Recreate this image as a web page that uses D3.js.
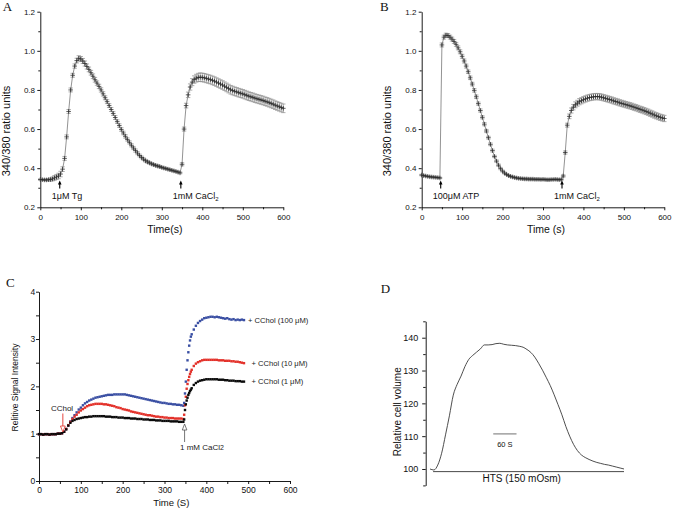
<!DOCTYPE html>
<html>
<head>
<meta charset="utf-8">
<script src="https://cdn.jsdelivr.net/npm/d3@7"></script>
<style>
  body { margin: 0; background: #fff; }
  svg { display: block; }
  text { font-family: "Liberation Sans", Arial, sans-serif; fill: #111; }
</style>
</head>
<body>
<svg id="fig" width="673" height="510"></svg>
<script>
// ---- data ----
// A and B: 340/380 ratio, one reading every 5 s (0..600 s)
const stepAB = 5;
const ratioA = [
  0.342,0.341,0.340,0.340,0.341,0.342,0.345,0.350,0.355,0.360,
  0.370,0.395,0.450,0.560,0.690,0.800,0.875,0.922,0.950,0.962,
  0.958,0.948,0.935,0.920,0.905,0.888,0.870,0.852,0.835,0.818,
  0.800,0.780,0.760,0.740,0.720,0.700,0.680,0.659,0.638,0.618,
  0.598,0.580,0.563,0.547,0.532,0.517,0.503,0.490,0.477,0.465,
  0.455,0.446,0.438,0.432,0.427,0.422,0.418,0.414,0.411,0.408,
  0.404,0.401,0.398,0.395,0.392,0.389,0.386,0.383,0.380,0.376,
  0.420,0.600,0.720,0.775,0.815,0.840,0.853,0.860,0.864,0.865,
  0.864,0.862,0.859,0.856,0.853,0.849,0.845,0.840,0.835,0.830,
  0.825,0.819,0.813,0.807,0.801,0.797,0.793,0.790,0.786,0.783,
  0.780,0.776,0.772,0.768,0.765,0.762,0.758,0.755,0.752,0.749,
  0.746,0.742,0.739,0.735,0.731,0.727,0.722,0.718,0.714,0.710,
  0.706
];
const errA = [
  .004,.004,.004,.005,.006,.008,.010,.012,.013,.014,
  .014,.012,.010,.010,.010,.010,.010,.011,.012,.013,
  .013,.013,.013,.013,.012,.012,.012,.012,.011,.011,
  .011,.011,.010,.010,.010,.010,.010,.010,.009,.009,
  .009,.009,.009,.008,.008,.008,.008,.008,.008,.007,
  .007,.007,.007,.007,.006,.006,.006,.006,.006,.006,
  .005,.005,.005,.005,.005,.005,.005,.005,.005,.005,
  .008,.010,.012,.014,.016,.018,.019,.020,.021,.022,
  .022,.022,.022,.022,.022,.022,.022,.022,.022,.022,
  .022,.022,.022,.022,.022,.022,.022,.022,.022,.022,
  .022,.022,.022,.022,.022,.022,.022,.022,.022,.022,
  .022,.022,.022,.022,.022,.022,.022,.022,.022,.022,
  .022
];
const ratioB = [
  0.365,0.362,0.360,0.358,0.356,0.355,0.354,0.353,0.352,0.350,
  1.030,1.070,1.080,1.078,1.070,1.060,1.048,1.033,1.015,0.995,
  0.972,0.948,0.922,0.893,0.862,0.830,0.798,0.765,0.730,0.695,
  0.660,0.625,0.590,0.556,0.522,0.490,0.460,0.436,0.415,0.398,
  0.385,0.375,0.368,0.362,0.358,0.355,0.352,0.350,0.348,0.347,
  0.346,0.345,0.345,0.344,0.344,0.344,0.343,0.343,0.343,0.342,
  0.343,0.342,0.341,0.341,0.342,0.342,0.343,0.342,0.341,0.342,
  0.360,0.480,0.620,0.665,0.695,0.712,0.724,0.732,0.740,0.745,
  0.750,0.754,0.758,0.761,0.763,0.765,0.766,0.766,0.765,0.763,
  0.760,0.757,0.754,0.751,0.748,0.744,0.741,0.738,0.734,0.731,
  0.728,0.725,0.722,0.719,0.716,0.712,0.709,0.705,0.701,0.698,
  0.694,0.690,0.686,0.681,0.677,0.672,0.668,0.664,0.660,0.657,
  0.654
];
const errB = [
  .004,.004,.004,.004,.004,.004,.004,.004,.004,.004,
  .010,.010,.010,.010,.010,.010,.010,.010,.010,.010,
  .010,.010,.010,.009,.009,.009,.009,.009,.008,.008,
  .008,.008,.008,.007,.007,.007,.006,.006,.006,.006,
  .005,.005,.005,.005,.005,.005,.005,.005,.005,.005,
  .005,.005,.005,.005,.005,.005,.005,.005,.005,.005,
  .005,.005,.005,.005,.005,.005,.005,.005,.005,.005,
  .006,.008,.010,.012,.013,.014,.015,.015,.016,.016,
  .016,.016,.016,.016,.016,.016,.016,.016,.016,.016,
  .016,.016,.016,.016,.016,.016,.016,.016,.016,.016,
  .016,.016,.016,.016,.016,.016,.016,.016,.016,.016,
  .016,.016,.016,.016,.016,.016,.016,.016,.016,.016,
  .016
];
const stimA = [{ t: 48, label: "1\u03bcM Tg" }, { t: 347, label: "1mM CaCl", sub: "2" }];
const stimB = [{ t: 47, label: "100\u03bcM ATP" }, { t: 347, label: "1mM CaCl", sub: "2" }];

// C: relative signal intensity, 5 s steps with a finer run over the CaCl2 jump
const timeC = d3.range(0, 350, 5).concat([347, 349, 351, 353, 355, 357, 359, 361, 363], d3.range(365, 495, 5));
const cchol1 = [
  0.99,0.99,0.98,0.99,0.99,0.98,0.99,0.99,0.99,1.00,
  1.00,1.01,1.04,1.09,1.17,1.23,1.27,1.29,1.31,1.32,
  1.33,1.34,1.35,1.35,1.36,1.36,1.37,1.37,1.37,1.37,
  1.37,1.37,1.36,1.36,1.36,1.35,1.35,1.35,1.34,1.34,
  1.34,1.33,1.33,1.33,1.32,1.32,1.32,1.31,1.31,1.31,
  1.30,1.30,1.30,1.29,1.29,1.29,1.28,1.28,1.28,1.27,
  1.27,1.27,1.27,1.26,1.26,1.26,1.26,1.25,1.25,1.25,
  1.30,1.50,1.62,1.70,1.76,1.82,1.86,1.90,1.93,
  1.96,2.03,2.07,2.10,2.12,2.13,2.14,2.15,2.15,2.15,2.15,2.15,2.15,
  2.14,2.14,2.14,2.13,2.13,2.12,2.12,2.12,2.11,2.11,2.11,2.10,2.10
];
const cchol10 = [
  0.99,0.99,0.98,0.99,0.99,0.98,0.99,0.99,0.99,1.00,
  1.00,1.01,1.04,1.10,1.18,1.25,1.31,1.36,1.40,1.45,
  1.49,1.52,1.55,1.58,1.60,1.61,1.62,1.63,1.63,1.63,
  1.63,1.62,1.62,1.61,1.60,1.59,1.58,1.56,1.55,1.54,
  1.52,1.51,1.50,1.49,1.47,1.46,1.45,1.44,1.43,1.42,
  1.41,1.40,1.39,1.39,1.38,1.37,1.36,1.36,1.35,1.35,
  1.34,1.34,1.33,1.33,1.33,1.32,1.32,1.32,1.32,1.31,
  1.40,1.60,1.78,1.95,2.05,2.13,2.20,2.26,2.31,
  2.35,2.43,2.48,2.51,2.53,2.55,2.56,2.56,2.56,2.56,2.56,2.56,2.56,
  2.55,2.55,2.55,2.54,2.54,2.54,2.53,2.53,2.52,2.52,2.51,2.50,2.49
];
const cchol100 = [
  0.99,0.99,0.98,0.99,0.99,0.98,0.99,0.99,0.99,1.00,
  1.00,1.01,1.04,1.10,1.18,1.26,1.33,1.39,1.45,1.51,
  1.55,1.60,1.64,1.67,1.70,1.72,1.74,1.76,1.77,1.78,
  1.79,1.80,1.81,1.82,1.82,1.82,1.83,1.83,1.83,1.83,
  1.83,1.83,1.82,1.81,1.80,1.79,1.78,1.77,1.76,1.75,
  1.74,1.73,1.72,1.71,1.70,1.69,1.68,1.67,1.66,1.65,
  1.65,1.64,1.63,1.63,1.62,1.62,1.61,1.61,1.60,1.59,
  1.65,1.85,2.10,2.35,2.55,2.72,2.86,2.97,3.05,
  3.10,3.20,3.28,3.34,3.38,3.41,3.44,3.45,3.46,3.47,3.47,3.46,3.47,
  3.46,3.45,3.44,3.43,3.44,3.42,3.41,3.42,3.40,3.41,3.40,3.41,3.40
];
const seriesC = [
  { name: "+ CChol (100 \u03bcM)", values: cchol100, color: "#3a4fa3", dx: 4 },
  { name: "+ CChol (10 \u03bcM)", values: cchol10, color: "#e3312a", dx: 7.5 },
  { name: "+ CChol (1 \u03bcM)", values: cchol1, color: "#0b0b0b", dx: 7.5 }
];

// D: relative cell volume, every 10 s
const timeD = d3.range(0, 510, 10);
const volumeD = [
  100.0, 99.7,101.2,104.8,110.4,116.2,122.5,125.8,128.3,131.2,
  133.4,134.6,135.6,136.6,137.8,137.8,137.9,138.2,138.3,138.0,
  137.8,137.7,137.6,137.4,137.1,136.4,135.5,134.1,132.2,130.1,
  127.8,125.4,122.6,119.6,116.5,113.0,110.0,107.5,105.6,104.3,
  103.5,102.9,102.4,102.0,101.7,101.4,101.2,100.9,100.6,100.3,
  100.0
];

const svg = d3.select("#fig");

// ---- helpers ----
function axis(g, orient, scale, major, minor, fmt, o) {
  const make = orient === "bottom" ? d3.axisBottom : d3.axisLeft;
  const gm = g.append("g").call(make(scale).tickValues(major).tickFormat(fmt)
    .tickSize(o.len).tickPadding(o.pad).tickSizeOuter(0));
  gm.attr("font-family", null).attr("font-size", null);
  gm.selectAll("text").style("font-size", o.fs + "px");
  gm.selectAll("line,path").attr("stroke", "#000").attr("stroke-width", 0.9);
  if (minor) {
    const gn = g.append("g").call(make(scale).tickValues(minor).tickFormat("")
      .tickSize(o.minLen).tickSizeOuter(0));
    gn.select(".domain").remove();
    gn.selectAll("line").attr("stroke", "#000").attr("stroke-width", 0.9);
  }
}

function panelLetter(x, y, s) {
  svg.append("text").attr("x", x).attr("y", y).text(s)
    .style("font-family", "'Liberation Serif', 'Times New Roman', serif").style("font-size", "13px");
}

function ratioPanel(x0, x1, vals, errs, stims, xTitle, letterX) {
  const x = d3.scaleLinear().domain([0, 600]).range([x0, x1]);
  const y = d3.scaleLinear().domain([0.2, 1.2]).range([207.3, 11.7]);
  const pts = vals.map((v, i) => ({ t: i * stepAB, v, e: errs[i] }));
  const g = svg.append("g");

  axis(g.append("g").attr("transform", `translate(0,${y.range()[0]})`), "bottom", x,
    d3.range(0, 601, 100), d3.range(50, 600, 100), d3.format("d"), { len: 3, pad: 4.5, minLen: 2, fs: 8 });
  axis(g.append("g").attr("transform", `translate(${x0},0)`), "left", y,
    [0.2, 0.4, 0.6, 0.8, 1.0, 1.2], [0.3, 0.5, 0.7, 0.9, 1.1], d3.format(".1f"), { len: 3, pad: 2.3, minLen: 2, fs: 8 });

  // connecting line
  g.append("path").datum(pts)
    .attr("d", d3.line().x(d => x(d.t)).y(d => y(d.v)))
    .attr("fill", "none").attr("stroke", "#777").attr("stroke-width", 0.8);
  // error bars
  g.append("g").selectAll("path").data(pts).join("path")
    .attr("d", d => {
      const px = x(d.t), a = y(d.v + d.e), b = y(d.v - d.e);
      return `M${px - 2.2},${a}h4.4M${px},${a}V${b}M${px - 2.2},${b}h4.4`;
    })
    .attr("fill", "none").attr("stroke", "#8c8c8c").attr("stroke-width", 0.7);
  // cross markers
  g.append("g").selectAll("path").data(pts).join("path")
    .attr("d", d => `M${x(d.t) - 2.3},${y(d.v)}h4.6M${x(d.t)},${y(d.v) - 2.3}v4.6`)
    .attr("fill", "none").attr("stroke", "#2a2a2a").attr("stroke-width", 0.75);

  // stimulus arrows
  stims.forEach(s => {
    const px = x(s.t);
    g.append("line").attr("x1", px).attr("x2", px).attr("y1", 188.5).attr("y2", 183.5)
      .attr("stroke", "#000").attr("stroke-width", 1.1);
    g.append("path").attr("d", `M${px},180.5L${px - 1.8},184.5L${px + 1.8},184.5Z`).attr("fill", "#000");
    const t = g.append("text").attr("x", px - 8).attr("y", 199).style("font-size", "9px").text(s.label);
    if (s.sub) t.append("tspan").attr("dy", 2).style("font-size", "6px").text(s.sub);
  });

  g.append("text").attr("transform", `translate(${x0 - 30.7},131) rotate(-90)`)
    .attr("text-anchor", "middle").style("font-size", "11px").text("340/380 ratio units");
  g.append("text").attr("x", (x0 + x1) / 2 + 3).attr("y", 233)
    .attr("text-anchor", "middle").style("font-size", "10.5px").text(xTitle);
  panelLetter(letterX, 10.7, xTitle === "Time(s)" ? "A" : "B");
}

// ---- A & B ----
ratioPanel(40.3, 283.3, ratioA, errA, stimA, "Time(s)", 2.7);
ratioPanel(421.7, 664.3, ratioB, errB, stimB, "Time (s)", 380);

// ---- C ----
{
  const x = d3.scaleLinear().domain([0, 600]).range([39, 290]);
  const y = d3.scaleLinear().domain([0, 4]).range([481, 291.7]);
  const g = svg.append("g");
  axis(g.append("g").attr("transform", "translate(0,481)"), "bottom", x,
    d3.range(0, 601, 100), d3.range(50, 600, 100), d3.format("d"), { len: 3, pad: 3, minLen: 3, fs: 8.5 });
  axis(g.append("g").attr("transform", "translate(39,0)"), "left", y,
    [0, 1, 2, 3, 4], [0.5, 1.5, 2.5, 3.5], d3.format("d"), { len: 3, pad: 0.8, minLen: 3, fs: 8.5 });

  seriesC.forEach(s => {
    g.append("g").selectAll("rect").data(s.values).join("rect")
      .attr("x", (d, i) => x(timeC[i]) - 1.2).attr("y", d => y(d) - 1.2)
      .attr("width", 2.4).attr("height", 2.4).attr("fill", s.color);
    const last = s.values.length - 1;
    g.append("text").attr("x", x(timeC[last]) + s.dx).attr("y", y(s.values[last]) + 2.8)
      .style("font-size", "7.6px").style("fill", "#222").text(s.name);
  });

  // CChol arrow (open head, red)
  const xc = x(57);
  g.append("line").attr("x1", xc).attr("x2", xc).attr("y1", 413.5).attr("y2", 426)
    .attr("stroke", "#e3312a").attr("stroke-width", 0.9);
  g.append("path").attr("d", `M${xc},432L${xc - 2.4},426L${xc + 2.4},426Z`)
    .attr("fill", "#fff").attr("stroke", "#e3312a").attr("stroke-width", 0.8);
  g.append("text").attr("x", 62).attr("y", 411).attr("text-anchor", "middle")
    .style("font-size", "8px").style("fill", "#222").text("CChol");

  // CaCl2 arrow (open head, grey)
  const xa = x(348);
  g.append("line").attr("x1", xa).attr("x2", xa).attr("y1", 442).attr("y2", 430)
    .attr("stroke", "#777").attr("stroke-width", 1);
  g.append("path").attr("d", `M${xa},424L${xa - 2.3},430L${xa + 2.3},430Z`)
    .attr("fill", "#fff").attr("stroke", "#555").attr("stroke-width", 0.8);
  g.append("text").attr("x", 180).attr("y", 450).style("font-size", "8px").style("fill", "#222")
    .text("1 mM CaCl").append("tspan").style("font-size", "7px").text("2");

  g.append("text").attr("transform", "translate(18,387.5) rotate(-90)").attr("text-anchor", "middle")
    .style("font-size", "8.5px").text("Relitive Signal Intensity");
  g.append("text").attr("x", 171.3).attr("y", 505.5).attr("text-anchor", "middle")
    .style("font-size", "9.5px").text("Time (S)");
  panelLetter(6, 287.3, "C");
}

// ---- D ----
{
  const x = d3.scaleLinear().domain([0, 500]).range([430, 624]);
  const y = d3.scaleLinear().domain([95, 145]).range([485.4, 321.3]);
  const g = svg.append("g");
  axis(g.append("g").attr("transform", "translate(425.7,0)"), "left", y,
    [100, 110, 120, 130, 140], [95, 105, 115, 125, 135, 145], d3.format("d"), { len: 3.5, pad: 4, minLen: 2.5, fs: 9 });

  g.append("path").datum(volumeD)
    .attr("d", d3.line().x((d, i) => x(timeD[i])).y(d => y(d)).curve(d3.curveMonotoneX))
    .attr("fill", "none").attr("stroke", "#3a3a3a").attr("stroke-width", 0.9);

  // HTS application bar
  g.append("line").attr("x1", x(8)).attr("x2", x(500)).attr("y1", y(99.2)).attr("y2", y(99.2))
    .attr("stroke", "#333").attr("stroke-width", 0.9);
  g.append("text").attr("x", 521.7).attr("y", 482).attr("text-anchor", "middle")
    .style("font-size", "10px").text("HTS (150 mOsm)");

  // 60 s scale bar
  g.append("line").attr("x1", x(163)).attr("x2", x(223)).attr("y1", y(110.7)).attr("y2", y(110.7))
    .attr("stroke", "#999").attr("stroke-width", 1.4);
  g.append("text").attr("x", x(193)).attr("y", 446.5).attr("text-anchor", "middle")
    .style("font-size", "7.5px").text("60 S");

  g.append("text").attr("transform", "translate(400.5,411.7) rotate(-90)").attr("text-anchor", "middle")
    .style("font-size", "10px").text("Relative cell volume");
  panelLetter(380.7, 292.5, "D");
}
</script>
</body>
</html>
